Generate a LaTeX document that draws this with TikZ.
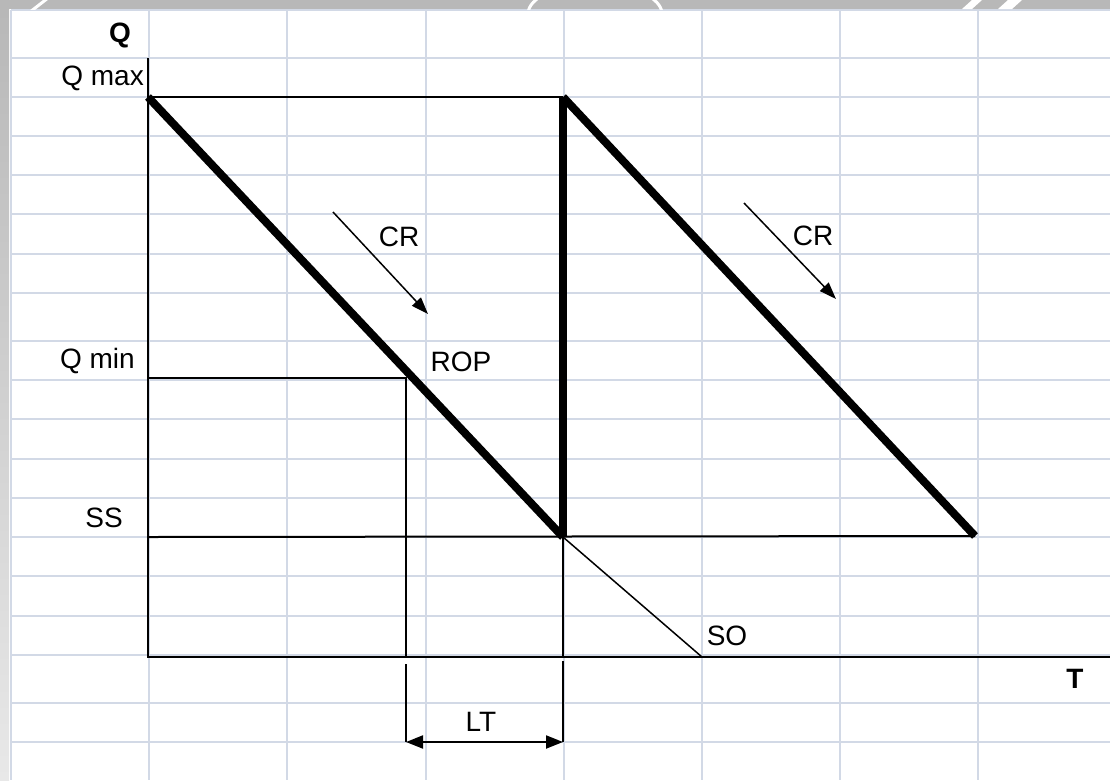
\documentclass[tikz,border=0pt]{standalone}
\usepackage{fontspec}
\setmainfont{Liberation Sans}
\usetikzlibrary{arrows.meta}
\definecolor{gridc}{RGB}{210,217,230}
\definecolor{bandc}{RGB}{184,184,184}
\begin{document}
\begin{tikzpicture}[x=1pt,y=-1pt,
  thinline/.style={line width=2pt, black},
  thickline/.style={line width=8pt, black},
  gridline/.style={line width=2pt, gridc},
  lbl/.style={inner sep=0pt, font=\fontsize{28}{32}\selectfont},
  boldlbl/.style={inner sep=0pt, font=\fontsize{28}{32}\selectfont\bfseries},
  crarrow/.style={line width=1.5pt, -{Triangle[length=17pt,width=12pt]}},
  ltarrow/.style={line width=2pt, {Triangle[length=17pt,width=13pt]}-{Triangle[length=17pt,width=13pt]}}]
\useasboundingbox (0,0) rectangle (1110,780);
\fill[white] (0,0) rectangle (1110,780);
% spreadsheet grid
\foreach \gx in {11,149,287,426,564,702,840,978}
  \draw[gridline] (\gx,10) -- (\gx,780);
\foreach \gy in {10,58,97,136,175,214,254,293,341,380,419,459,498,537,576,616,655,703,742}
  \draw[gridline] (11,\gy) -- (1110,\gy);
% gray frame bands
\fill[bandc] (0,0) rectangle (1110,9);
\shade[top color=bandc, bottom color=gray!18] (0,9) rectangle (9,780);
\begin{scope}
  \clip (0,0) rectangle (1110,9);
  \draw[white, line width=3pt] (528,14) arc[start angle=180, end angle=0, x radius=67pt, y radius=30pt];
  \fill[white] (962,9) -- (972,0) -- (982,0) -- (972,9) -- cycle;
  \fill[white] (998,9) -- (1008,0) -- (1022,0) -- (1012,9) -- cycle;
  \draw[white, line width=3pt] (30,12) -- (48,-2);
\end{scope}
% key points
\coordinate (ytop) at (148,58);
\coordinate (origin) at (148,657);
\coordinate (xend) at (1110,657);
\coordinate (qmaxL) at (148,97);
\coordinate (qmaxR) at (563,97);
\coordinate (ssL) at (148,537);
\coordinate (z1) at (563,537);
\coordinate (z2) at (975,536);
\coordinate (qminL) at (148,378);
\coordinate (ropP) at (406,378);
\coordinate (ropX) at (406,657);
\coordinate (z1X) at (563,657);
\coordinate (soEnd) at (702,657);
\coordinate (ltAtop) at (406,664);
\coordinate (ltA) at (406,742);
\coordinate (ltBtop) at (563,661);
\coordinate (ltB) at (563,742);
\coordinate (cr1s) at (333,212);
\coordinate (cr1e) at (428,314);
\coordinate (cr2s) at (744,203);
\coordinate (cr2e) at (836,299);
% thin lines
\draw[thinline] (ytop) -- (origin) -- (xend);
\draw[thinline] (qmaxL) -- (qmaxR);
\draw[thinline] (ssL) -- (z2);
\draw[thinline] (qminL) -- (ropP) -- (ropX);
\draw[thinline] (z1) -- (z1X);
\draw[thinline] (ltAtop) -- (ltA);
\draw[thinline] (ltBtop) -- (ltB);
\draw[line width=1.5pt] (z1) -- (soEnd);
\draw[ltarrow] (ltA) -- (ltB);
% stock lines
\draw[thickline] (qmaxL) -- (z1);
\draw[thickline] (z1) -- (qmaxR);
\draw[thickline] (qmaxR) -- (z2);
% consumption arrows
\draw[crarrow] (cr1s) -- (cr1e);
\draw[crarrow] (cr2s) -- (cr2e);
% labels
\node[boldlbl, anchor=east] (qlab) at (131,35) {Q};
\node[lbl, anchor=east] (qmaxlab) at (144,78) {Q max};
\node[lbl, anchor=east] (qminlab) at (135,361) {Q min};
\node[lbl] (sslab) at (104,518) {SS};
\node[lbl] (cr1lab) at (399,237) {CR};
\node[lbl] (cr2lab) at (813,236) {CR};
\node[lbl] (roplab) at (461,362) {ROP};
\node[lbl] (solab) at (727,636) {SO};
\node[boldlbl] (tlab) at (1075,679) {T};
\node[lbl] (ltlab) at (481,722) {LT};
\end{tikzpicture}
\end{document}
